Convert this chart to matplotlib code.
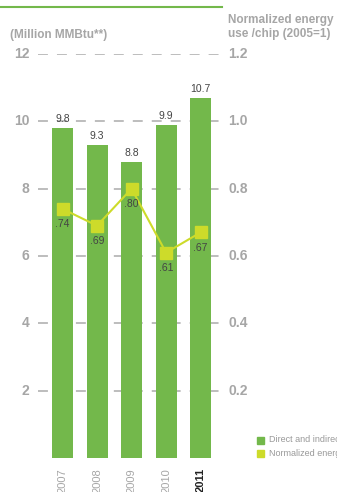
import matplotlib
matplotlib.use("Agg")
import matplotlib.pyplot as plt
from matplotlib.lines import Line2D

plt.rcParams['font.family'] = ['Liberation Sans', 'DejaVu Sans']

years = ["2007", "2008", "2009", "2010", "2011"]
energy = [9.8, 9.3, 8.8, 9.9, 10.7]
normalized = [0.74, 0.69, 0.80, 0.61, 0.67]
energy_labels = ["9.8", "9.3", "8.8", "9.9", "10.7"]
norm_labels = [".74", ".69", ".80", ".61", ".67"]
left_ticks = [2, 4, 6, 8, 10, 12]
right_ticks = ["0.2", "0.4", "0.6", "0.8", "1.0", "1.2"]
legend_labels = ["Direct and indirect energy use", "Normalized energy use/chip"]

bar_color = "#73B84B"
line_color = "#CDDB2A"
gray = "#A6A6A6"

W, H = 337, 492
fig = plt.figure(figsize=(W / 100, H / 100), dpi=100)

# axes in pixel coordinates
x0, x1 = 38, 222
y_top, y_zero = 54, 458  # y of value 12, y of value 0
ax = fig.add_axes([x0 / W, 1 - y_zero / H, (x1 - x0) / W, (y_zero - y_top) / H])
ax.set_xlim(-0.71, 4.62)
ax.set_ylim(0, 12)
for s in ax.spines.values():
    s.set_visible(False)
ax.set_xticks([])
ax.set_yticks([])

xs = list(range(len(years)))
for v in left_ticks:
    ax.axhline(v, color="#B8B8B8", lw=1.3, dashes=(5.5, 5), zorder=1)
ax.bar(xs, energy, width=0.61, color=bar_color, zorder=2)

for x, v, lab in zip(xs, energy, energy_labels):
    ax.text(x, v + 0.12, lab, ha="center", va="bottom", fontsize=7.5, color="#444444", zorder=4)

norm_scaled = [v * 10 for v in normalized]
ax.plot(xs, norm_scaled, color=line_color, lw=1.5, marker="s", markersize=8,
        markerfacecolor=line_color, markeredgecolor=line_color, zorder=3)
for x, v, lab in zip(xs, norm_scaled, norm_labels):
    ax.text(x, v - 0.3, lab, ha="center", va="top", fontsize=7.5, color="#444444", zorder=4)

# tick labels
for v, rl in zip(left_ticks, right_ticks):
    ax.text(-0.96, v, str(v), ha="right", va="center", fontsize=10, color=gray,
            fontweight="bold")
    ax.text(4.8, v, rl, ha="left", va="center", fontsize=10, color=gray,
            fontweight="bold")

for x, yr in zip(xs, years):
    last = yr == years[-1]
    ax.text(x, -0.3, yr, ha="center", va="top", rotation=90, fontsize=8,
            color="#222222" if last else gray, fontweight="bold" if last else "normal")

# top green line
fig.add_artist(Line2D([0, 222 / W], [1 - 7 / H, 1 - 7 / H], color=bar_color, lw=1.5))

fig.text(10 / W, 1 - 35 / H, "(Million MMBtu**)", ha="left", va="center",
         fontsize=8.5, color=gray, fontweight="bold")
fig.text(228 / W, 1 - 27 / H, "Normalized energy\nuse /chip (2005=1)", ha="left",
         va="center", fontsize=8.5, color=gray, fontweight="bold", linespacing=1.15)

# legend (clipped at the right edge as in the reference)
for i, (lab, col) in enumerate(zip(legend_labels, [bar_color, line_color])):
    yy = 440 + i * 13
    fig.patches.append(plt.Rectangle((257 / W, 1 - (yy + 4) / H), 7 / W, 7 / H,
                                     transform=fig.transFigure, color=col))
    fig.text(269 / W, 1 - yy / H, lab, ha="left", va="center", fontsize=6.5, color="#999999")

fig.savefig("out.png", dpi=100)
